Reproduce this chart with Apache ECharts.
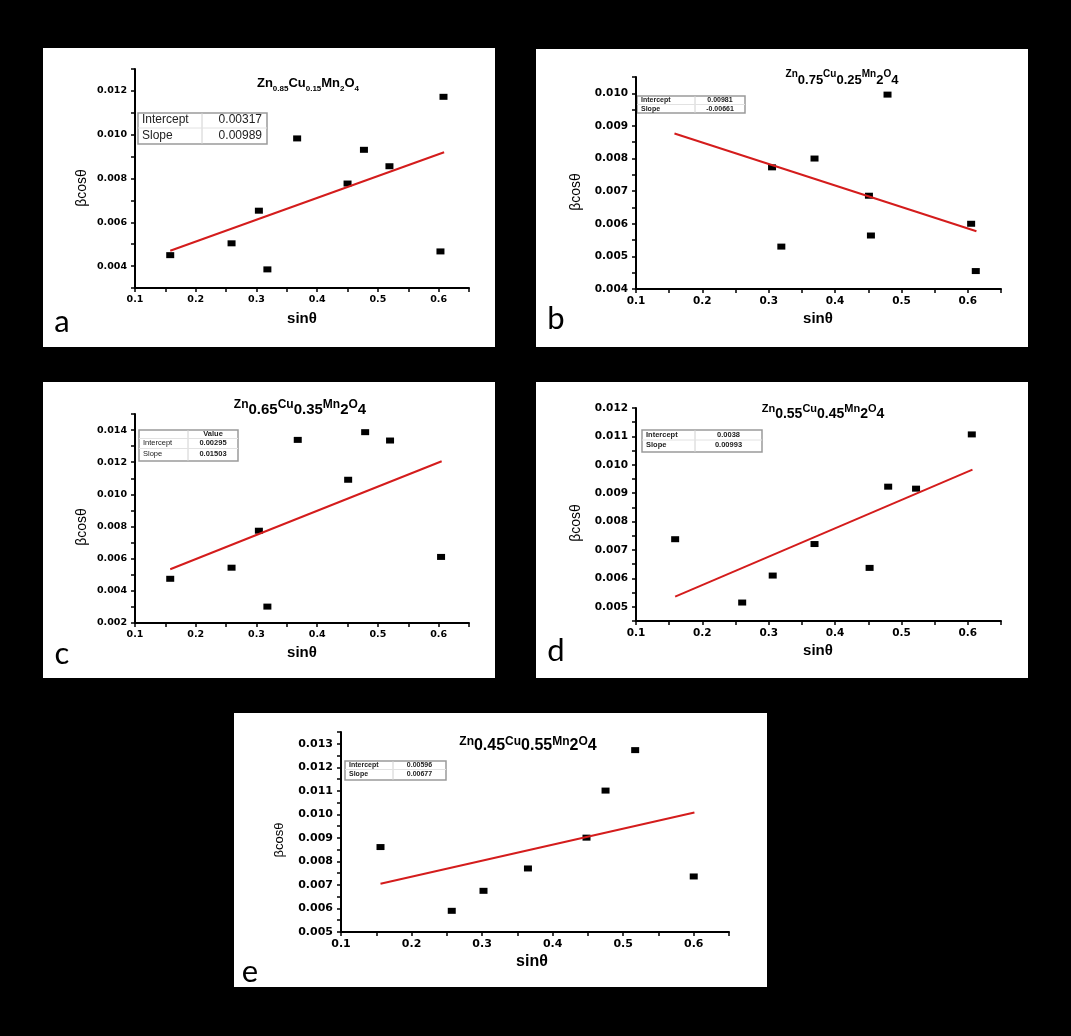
<!DOCTYPE html>
<html>
<head>
<meta charset="utf-8">
<script src="https://cdn.jsdelivr.net/npm/echarts@6/dist/echarts.min.js"></script>
<style>
  html, body { margin: 0; padding: 0; background: #000; }
  #main { width: 1071px; height: 1036px; }
</style>
</head>
<body>
<div id="main"></div>
<script>
// sin(theta) values per sample
var xA = [0.158, 0.259, 0.304, 0.318, 0.367, 0.450, 0.477, 0.519, 0.603, 0.608];
var xB = [0.305, 0.319, 0.369, 0.451, 0.454, 0.479, 0.605, 0.612];
var xC = [0.158, 0.259, 0.304, 0.318, 0.368, 0.451, 0.479, 0.520, 0.604];
var xD = [0.159, 0.260, 0.306, 0.369, 0.452, 0.480, 0.522, 0.606];
var xE = [0.156, 0.257, 0.302, 0.365, 0.448, 0.475, 0.517, 0.600];

// beta cos(theta) values
var yA = [0.0045, 0.00504, 0.00653, 0.00385, 0.00983, 0.00777, 0.00931, 0.00856, 0.00467, 0.01173];
var yB = [0.00773, 0.0053, 0.0080, 0.00686, 0.00564, 0.00996, 0.0060, 0.00455];
var yC = [0.00475, 0.00544, 0.00774, 0.00302, 0.01339, 0.01091, 0.01387, 0.01335, 0.00611];
var yD = [0.00738, 0.00515, 0.0061, 0.00721, 0.00637, 0.00923, 0.00916, 0.01107];
var yE = [0.00861, 0.0059, 0.00675, 0.0077, 0.00901, 0.01101, 0.01273, 0.00736];

// linear fit end points
var fitA = [[0.158, 0.0047], [0.609, 0.0092]];
var fitB = [[0.158, 0.00877], [0.613, 0.00577]];
var fitC = [[0.158, 0.00534], [0.605, 0.01206]];
var fitD = [[0.159, 0.00536], [0.607, 0.00983]];
var fitE = [[0.156, 0.00705], [0.601, 0.01008]];

// fit tables
var tableA = [['Intercept', '0.00317'], ['Slope', '0.00989']];
var tableB = [['Intercept', '0.00981'], ['Slope', '-0.00661']];
var tableC = [['', 'Value'], ['Intercept', '0.00295'], ['Slope', '0.01503']];
var tableD = [['Intercept', '0.0038'], ['Slope', '0.00993']];
var tableE = [['Intercept', '0.00596'], ['Slope', '0.00677']];

// compositions
var formA = [['Zn', '0.85'], ['Cu', '0.15'], ['Mn', '2'], ['O', '4']];
var formB = [['Zn', '0.75'], ['Cu', '0.25'], ['Mn', '2'], ['O', '4']];
var formC = [['Zn', '0.65'], ['Cu', '0.35'], ['Mn', '2'], ['O', '4']];
var formD = [['Zn', '0.55'], ['Cu', '0.45'], ['Mn', '2'], ['O', '4']];
var formE = [['Zn', '0.45'], ['Cu', '0.55'], ['Mn', '2'], ['O', '4']];

var xTicks = { min: 0.1, max: 0.65, interval: 0.05, step: 0.1 };

var panels = [
  { tag: 'a', box: [43, 48, 452, 299], grid: [135, 69, 334, 219],
    y: { min: 0.003, max: 0.013, interval: 0.001, step: 0.002 }, fs: 9.5,
    xs: xA, ys: yA, fit: fitA, form: formA, sub: true, title: [308, 85, 13, 8],
    table: { box: [138, 113, 129, 31], div: 202, rows: [120, 136], fs: 12, bold: false, valRight: 262 },
    tbl: tableA, yName: [82, 188, 14], xName: [302, 319, 15], label: [62, 322] },
  { tag: 'b', box: [536, 49, 492, 298], grid: [636, 77, 365, 212],
    y: { min: 0.004, max: 0.0105, interval: 0.0005, step: 0.001 }, fs: 10.5,
    xs: xB, ys: yB, fit: fitB, form: formB, sub: false, title: [842, 78, 10, 13],
    table: { box: [637, 96, 108, 17], div: 695, rows: [100, 109], fs: 7, bold: true },
    tbl: tableB, yName: [576, 192, 14], xName: [818, 319, 15], label: [556, 319] },
  { tag: 'c', box: [43, 382, 452, 296], grid: [135, 414, 334, 209],
    y: { min: 0.002, max: 0.015, interval: 0.001, step: 0.002 }, fs: 9.5,
    xs: xC, ys: yC, fit: fitC, form: formC, sub: false, title: [300, 408, 12, 15],
    table: { box: [139, 430, 99, 31], div: 188, rows: [434, 443, 454], fs: 7.5, bold: false },
    tbl: tableC, yName: [82, 527, 14], xName: [302, 653, 15], label: [62, 654] },
  { tag: 'd', box: [536, 382, 492, 296], grid: [636, 408, 365, 213],
    y: { min: 0.0045, max: 0.012, interval: 0.0005, step: 0.001 }, fs: 10.5,
    xs: xD, ys: yD, fit: fitD, form: formD, sub: false, title: [823, 412, 11, 14],
    table: { box: [642, 430, 120, 22], div: 695, rows: [435, 445], fs: 7.5, bold: true },
    tbl: tableD, yName: [576, 523, 14], xName: [818, 651, 15], label: [556, 651] },
  { tag: 'e', box: [234, 713, 533, 274], grid: [341, 732, 388, 200],
    y: { min: 0.005, max: 0.0135, interval: 0.0005, step: 0.001 }, fs: 11,
    xs: xE, ys: yE, fit: fitE, form: formE, sub: false, title: [528, 745, 12, 16],
    table: { box: [345, 761, 101, 19], div: 393, rows: [765, 774], fs: 7, bold: true },
    tbl: tableE, yName: [279, 840, 13], xName: [532, 962, 16], label: [250, 972] }
];

function labelFmt(step, digits) {
  return function (v) {
    var r = v / step;
    return Math.abs(r - Math.round(r)) < 1e-6 ? v.toFixed(digits) : '';
  };
}

var tickFont = 'DejaVu Sans';
var grids = [], xAxes = [], yAxes = [], series = [], graphics = [];

panels.forEach(function (p, i) {
  graphics.push({
    type: 'rect', z: -10,
    shape: { x: p.box[0], y: p.box[1], width: p.box[2], height: p.box[3] },
    style: { fill: '#fff' }
  });
  grids.push({ left: p.grid[0], top: p.grid[1], width: p.grid[2], height: p.grid[3], show: false });

  var axisLine = { show: true, onZero: false, lineStyle: { color: '#000', width: 2 } };
  var axisTick = { show: true, inside: false, length: 4, lineStyle: { color: '#000', width: 1.5 } };

  xAxes.push({
    type: 'value', gridIndex: i, min: xTicks.min, max: xTicks.max, interval: xTicks.interval,
    axisLine: axisLine, axisTick: axisTick, splitLine: { show: false },
    axisLabel: { formatter: labelFmt(xTicks.step, 1), color: '#000', fontFamily: tickFont,
      fontWeight: 'bold', fontSize: p.fs, margin: 7, showMinLabel: true, showMaxLabel: true }
  });
  yAxes.push({
    type: 'value', gridIndex: i, min: p.y.min, max: p.y.max, interval: p.y.interval,
    axisLine: axisLine, axisTick: axisTick, splitLine: { show: false },
    axisLabel: { formatter: labelFmt(p.y.step, 3), color: '#000', fontFamily: tickFont,
      fontWeight: 'bold', fontSize: p.fs, margin: 8, showMinLabel: true, showMaxLabel: true }
  });

  series.push({
    type: 'scatter', xAxisIndex: i, yAxisIndex: i, symbol: 'rect', symbolSize: [8, 6],
    itemStyle: { color: '#000', opacity: 1 }, silent: true,
    data: p.xs.map(function (x, k) { return [x, p.ys[k]]; })
  });
  series.push({
    type: 'line', xAxisIndex: i, yAxisIndex: i, showSymbol: false, symbol: 'none',
    lineStyle: { color: '#d41c1c', width: 2 }, silent: true, data: p.fit
  });

  // formula title
  var text = '', rich;
  if (p.sub) {
    rich = {
      el: { fontSize: p.title[2], fontWeight: 'bold', fontFamily: 'Liberation Sans', lineHeight: 16, verticalAlign: 'top', fill: '#000' },
      n: { fontSize: p.title[3], fontWeight: 'bold', fontFamily: 'Liberation Sans', lineHeight: 8, verticalAlign: 'bottom', fill: '#000' }
    };
  } else {
    rich = {
      el: { fontSize: p.title[2], fontWeight: 'bold', fontFamily: 'Liberation Sans', lineHeight: 10, verticalAlign: 'top', fill: '#000' },
      n: { fontSize: p.title[3], fontWeight: 'bold', fontFamily: 'Liberation Sans', lineHeight: 18, verticalAlign: 'bottom', fill: '#000' }
    };
  }
  p.form.forEach(function (f) { text += '{el|' + f[0] + '}{n|' + f[1] + '}'; });
  graphics.push({
    type: 'text', x: p.title[0], y: p.title[1],
    style: { text: text, rich: rich, align: 'center', verticalAlign: 'middle',
      textAlign: 'center', textVerticalAlign: 'middle' }
  });

  // fit table
  var t = p.table;
  graphics.push({
    type: 'rect', shape: { x: t.box[0], y: t.box[1], width: t.box[2], height: t.box[3] },
    style: { fill: '#fff', stroke: '#9a9a9a', lineWidth: 1.5 }
  });
  graphics.push({
    type: 'line', shape: { x1: t.div, y1: t.box[1], x2: t.div, y2: t.box[1] + t.box[3] },
    style: { stroke: '#d0d0d0', lineWidth: 1 }
  });
  for (var r = 1; r < t.rows.length; r++) {
    var ly = (t.rows[r - 1] + t.rows[r]) / 2;
    graphics.push({
      type: 'line', shape: { x1: t.box[0], y1: ly, x2: t.box[0] + t.box[2], y2: ly },
      style: { stroke: '#e2e2e2', lineWidth: 1 }
    });
  }
  var valX = t.valRight || (t.div + t.box[0] + t.box[2]) / 2;
  var valAlign = t.valRight ? 'right' : 'center';
  p.tbl.forEach(function (row, k) {
    var isHead = row[0] === '';
    graphics.push({
      type: 'text', x: t.box[0] + 4, y: t.rows[k],
      style: { text: row[0], fontSize: t.fs, fontFamily: 'Liberation Sans', fontWeight: t.bold ? 'bold' : 'normal',
        fill: '#222', align: 'left', verticalAlign: 'middle', textAlign: 'left', textVerticalAlign: 'middle' }
    });
    graphics.push({
      type: 'text', x: valX, y: t.rows[k],
      style: { text: row[1], fontSize: t.fs, fontFamily: 'Liberation Sans',
        fontWeight: (t.bold || !t.valRight || isHead) ? 'bold' : 'normal',
        fill: '#222', align: valAlign, verticalAlign: 'middle', textAlign: valAlign, textVerticalAlign: 'middle' }
    });
  });

  // axis names
  graphics.push({
    type: 'text', x: p.yName[0], y: p.yName[1], rotation: Math.PI / 2,
    style: { text: 'βcosθ', fontSize: p.yName[2], fontFamily: 'Liberation Sans', fill: '#000',
      align: 'center', verticalAlign: 'middle', textAlign: 'center', textVerticalAlign: 'middle' }
  });
  graphics.push({
    type: 'text', x: p.xName[0], y: p.xName[1],
    style: { text: 'sinθ', fontSize: p.xName[2], fontWeight: 'bold', fontFamily: 'Liberation Sans', fill: '#000',
      align: 'center', verticalAlign: 'middle', textAlign: 'center', textVerticalAlign: 'middle' }
  });
  // panel letter
  graphics.push({
    type: 'text', x: p.label[0], y: p.label[1],
    style: { text: p.tag, fontSize: 31, fontFamily: 'Lato', fill: '#000',
      align: 'center', verticalAlign: 'middle', textAlign: 'center', textVerticalAlign: 'middle' }
  });
});

var chart = echarts.init(document.getElementById('main'), null, { renderer: 'canvas' });
chart.setOption({
  backgroundColor: '#000',
  animation: false,
  grid: grids,
  xAxis: xAxes,
  yAxis: yAxes,
  series: series,
  graphic: { elements: graphics }
});
</script>
</body>
</html>
